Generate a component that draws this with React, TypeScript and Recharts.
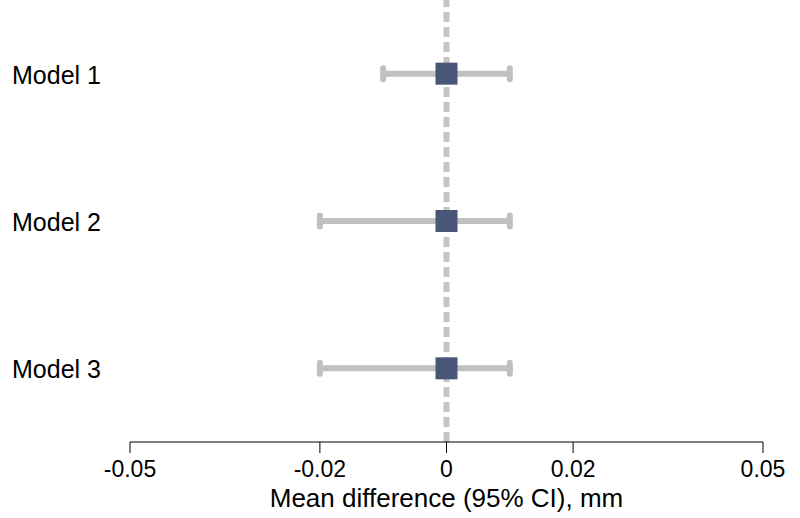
import React from 'react';
import { ScatterChart, Scatter, XAxis, YAxis, ErrorBar, ReferenceLine } from 'recharts';

const models = ['Model 1', 'Model 2', 'Model 3'];
const estimates = [0, 0, 0];
const lowerCI = [-0.01, -0.02, -0.02];
const upperCI = [0.01, 0.01, 0.01];
const xTicks = [-0.05, -0.02, 0, 0.02, 0.05];

const data = models.map((m, i) => ({
  name: m,
  row: i + 1,
  est: estimates[i],
  err: [estimates[i] - lowerCI[i], upperCI[i] - estimates[i]],
}));

const FONT = 'Liberation Sans, Arial, Helvetica, sans-serif';

const Square = (props: any) => {
  const { cx, cy } = props;
  const s = 22;
  return <rect x={cx - s / 2} y={cy - s / 2} width={s} height={s} fill="#4a5677" />;
};

const ModelTick = (props: any) => {
  const { y, payload } = props;
  return (
    <text x={12} y={y} dy={10} textAnchor="start" fontSize={25} fill="#000" fontFamily={FONT}>
      {models[payload.value - 1]}
    </text>
  );
};

const fmt = (v: number) => (v === 0 ? '0' : String(v));

export default function App() {
  return (
    <div style={{ position: 'absolute', left: 0, top: 0, background: '#fff' }}>
      <ScatterChart width={800} height={518} margin={{ top: 0, right: 37, bottom: 0, left: 0 }}>
        <XAxis
          type="number"
          dataKey="est"
          domain={[-0.05, 0.05]}
          ticks={xTicks}
          tickFormatter={fmt}
          height={76}
          tickSize={11}
          tickMargin={8}
          stroke="#000"
          tick={{ fill: '#000', fontSize: 23, fontFamily: FONT }}
          label={{
            value: 'Mean difference (95% CI), mm',
            position: 'insideBottom',
            offset: 11,
            fill: '#000',
            fontSize: 26,
            fontFamily: FONT,
          }}
        />
        <YAxis
          type="number"
          dataKey="row"
          domain={[0.5, 3.5]}
          reversed
          ticks={[1, 2, 3]}
          width={130}
          axisLine={false}
          tickLine={false}
          tick={<ModelTick />}
        />
        <ReferenceLine x={0} stroke="#c4c4c4" strokeWidth={6} strokeDasharray="10 5" />
        <Scatter data={data} isAnimationActive={false} shape={<Square />}>
          <ErrorBar
            dataKey="err"
            direction="x"
            width={5.5}
            stroke="#c0c0c0"
            strokeWidth={6}
            strokeLinecap="round"
            isAnimationActive={false}
          />
        </Scatter>
      </ScatterChart>
    </div>
  );
}
